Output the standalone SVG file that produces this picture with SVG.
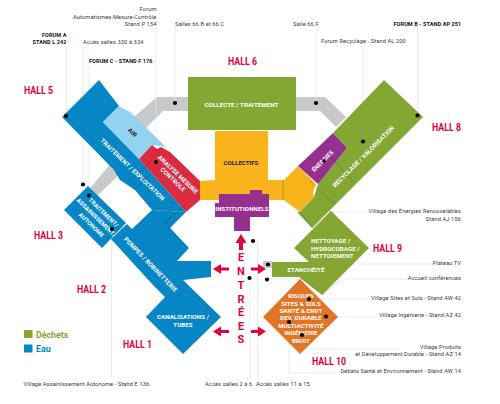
<svg xmlns="http://www.w3.org/2000/svg" width="500" height="404" viewBox="0 0 500 404">
<style>
text{font-family:Roboto,"Liberation Sans",sans-serif}
.s{font-size:5.7px;fill:#3a3a3a;letter-spacing:.1px}
.f{font-size:5.5px;font-weight:700;fill:#111;letter-spacing:.1px}
.e{text-anchor:end}
.h{font-size:10px;font-weight:700;fill:#e4003a}
.w{font-size:6.1px;font-weight:700;fill:#fff;text-anchor:middle;letter-spacing:.1px}
.k{font-size:6.1px;font-weight:700;fill:#222;text-anchor:middle}
.l{fill:none;stroke:#e2e2e2;stroke-width:.7}
.d{fill:#000}
.a{fill:#e4003a}
.sm{fill:none;stroke:#000;stroke-opacity:.3;stroke-width:.6}
.blue{fill:#0786c6}.green{fill:#84a733}.yellow{fill:#f9b31b}.purple{fill:#96308e}.red{fill:#d92c41}.lb{fill:#93d3f2}.gr{fill:#c8c9cb}.or{fill:#e07427}
</style>
<g id="walkways">
<polygon class="gr" points="157,97 188,97 188,111 163,111 140,134 128,122"/>
<polygon class="gr" points="90,188 112,162 122,172 97,196"/>
<polygon class="gr" points="296,97 325,97 346,117 336,127 320,111 296,111"/>
<polygon class="gr" points="263,261 272,261 272,268 263,268"/>
</g>
<g id="connectors">
<path class="l" d="M66.5 46V116M83 47V184M89 66V195M156 27V162M175 28V103M316 28V103M363 46V142M417.5 28V115"/>
<path class="l" d="M324 161V205L331 212H366M268 264H432M267 279H408M309 299H370M326 317H378M302 335V349H400M289 322V373H338M253 241H257.5V378M250 278V378M111.5 229V378"/>
</g>
<g id="hall5">
<polygon class="blue" points="99,80 62,117 114,170 120,180 135,190 152,210 186,212 139,159 103,122 119,106"/>
</g>
<g id="hall5-air"><polygon class="lb" points="103,122 119,106 130,112 166,147 152,145 139,159"/><text class="k" transform="translate(131,134) rotate(44)">AIR</text></g>
<g id="hall5-traitement"><text class="w" transform="translate(131,171) rotate(44)">TRAITEMENT / EXPLOITATION</text></g>
<g id="analyse"><polygon class="red" points="139,159 152,145 157,149 161,147 170,152 200,181 200,200 186,212"/>
<text class="w" transform="translate(176.500,176) rotate(44)">ANALYSE MESURE</text><text class="w" transform="translate(171.500,181) rotate(44)">CONTROLE</text></g>
<g id="hall3"><polygon class="blue" points="88,186 64,210 102,248 126,223"/>
<text class="w" transform="translate(102,214) rotate(44)" style="font-size:5.8px">TRAITEMENT/</text>
<text class="w" transform="translate(95,219) rotate(44)" style="font-size:5.8px">ASSAINISSEMENT/</text>
<text class="w" transform="translate(90,226.500) rotate(44)" style="font-size:5.8px">AUTONOME</text></g>
<g id="hall2"><polygon class="blue" points="111,239 127,224 132,229 152,210 186,212 170,228 189,248 177,261 211,261 211,277 183,280 221,317 183,354 146,317 165,297 153,285"/>
<text class="w" transform="translate(149,266) rotate(46)">POMPES / ROBINETTERIE</text></g>
<g id="hall1"><text class="w" x="183" y="319">CANALISATIONS /</text><text class="w" x="183" y="326.500">TUBES</text></g>
<g id="hall6"><rect class="green" x="188" y="77" width="108" height="53"/><text class="w" x="241.500" y="107">COLLECTE / TRAITEMENT</text></g>
<g id="collectifs"><polygon class="yellow" points="215,131 268,131 268,180 284,180 298,166 316,184 313,192 314,197 300,212 284,200 200,200 200,181 215,180"/><text class="k" x="241" y="165">COLLECTIFS</text></g>
<g id="recyclage"><polygon class="green" points="384,80 423,117 330,210 312,228 297,212 300,212 314,197 318,184 347,148 333,133"/><text class="w" transform="translate(365,158) rotate(-45)">RECYCLAGE / VALORISATION</text></g>
<g id="institutionnels"><polygon class="purple" points="219,194 250,194 250,190 262,190 262,194 269,194 269,217 250,217 250,231 234,231 234,217 215,217 215,203 219,203"/><text class="w" x="242" y="210.500">INSTITUTIONNELS</text></g>
<g id="energies"><polygon class="purple" points="298,166 313,152 333,133 347,148 318,184"/><text class="w" transform="translate(324,162.500) rotate(-45)" style="font-size:5.8px">ÉNERGIES</text></g>
<g id="nettoyage"><polygon class="green" points="331,211 369,248 322,295 300,278 300,262 309,262 294,248"/>
<text class="w" x="311" y="243" style="text-anchor:start">NETTOYAGE /</text><text class="w" x="311" y="250.500" style="text-anchor:start">HYDROCURAGE /</text><text class="w" x="311" y="258" style="text-anchor:start">NETTOIEMENT</text></g>
<g id="etancheite"><rect class="green" x="272" y="262" width="43" height="15"/><text class="w" x="306" y="271.500">ETANCHÉITÉ</text></g>
<g id="hall10"><polygon class="or" points="300,279 338,317 300,354 263,317"/>
<text class="w" x="301" y="298">RISQUES</text><text class="w" x="301" y="305.500">SITES &amp; SOLS</text><text class="w" x="301" y="313">SANTÉ &amp; ENVT</text><text class="w" x="301" y="320">DEV. DURABLE</text><text class="w" x="301" y="327.500">MULTIACTIVITÉ</text><text class="w" x="301" y="335">INGÉNIERIE</text><text class="w" x="301" y="342.500">BRUIT</text></g>
<g id="seams">
<path class="sm" d="M128,183 L152,160M134,190 L150,175M162,225 L185,205M165,222 L185,246M196,296 L212,312M283,180 V200M330,156 L355,183M310,181 L335,205M300,212 L313,228 L331,211M340,280 L322,295"/>
</g>
<g id="dots">
<circle class="d" cx="66" cy="116" r="2.100"/><circle class="d" cx="83" cy="184.500" r="2.100"/><circle class="d" cx="89" cy="195.500" r="2.100"/><circle class="d" cx="156" cy="162" r="2.100"/><circle class="d" cx="175" cy="103" r="2.100"/><circle class="d" cx="316" cy="103" r="2.100"/><circle class="d" cx="363" cy="141.500" r="2.100"/><circle class="d" cx="417.500" cy="115.500" r="2.100"/><circle class="d" cx="324" cy="161" r="1.800"/><circle class="d" cx="268" cy="264.500" r="2.100"/><circle class="d" cx="267" cy="279.500" r="2.100"/><circle class="d" cx="309" cy="299" r="2.100"/><circle class="d" cx="326" cy="316.500" r="2.100"/><circle class="d" cx="302" cy="335" r="2.100"/><circle class="d" cx="289" cy="322" r="2.100"/><circle class="d" cx="253" cy="241" r="2.100"/><circle class="d" cx="249.500" cy="278" r="2.100"/><circle class="d" cx="112" cy="229" r="2.100"/>
</g>
<g id="entrees">
<polygon class="a" points="241,234 246.500,243 243,243 243,250 239,250 239,243 235.500,243"/>
<polygon class="a" points="213,269 221,264 221,267.500 229,267.500 229,270.500 221,270.500 221,274"/>
<polygon class="a" points="213,331.500 221,326.500 221,330 229,330 229,333 221,333 221,336.500"/>
<polygon class="a" points="266,269 258,264 258,267.500 251,267.500 251,270.500 258,270.500 258,274"/>
<polygon class="a" points="266,331.500 258,326.500 258,330 251,330 251,333 258,333 258,336.500"/>
<g class="h" style="text-anchor:middle;font-size:11px"><text x="241" y="261">E</text><text x="241" y="275">N</text><text x="241" y="289">T</text><text x="241" y="303">R</text><text x="241" y="316">É</text><text x="241" y="330">E</text><text x="241" y="343">S</text></g>
</g>
<g id="hall-labels">
<text class="h" x="24" y="93.500" textLength="29" lengthAdjust="spacingAndGlyphs">HALL 5</text><text class="h" x="228" y="65" textLength="29" lengthAdjust="spacingAndGlyphs">HALL 6</text><text class="h" x="432" y="131" textLength="29" lengthAdjust="spacingAndGlyphs">HALL 8</text><text class="h" x="34" y="239" textLength="29" lengthAdjust="spacingAndGlyphs">HALL 3</text><text class="h" x="77" y="293" textLength="29" lengthAdjust="spacingAndGlyphs">HALL 2</text><text class="h" x="123" y="348" textLength="29" lengthAdjust="spacingAndGlyphs">HALL 1</text><text class="h" x="373" y="252" textLength="29" lengthAdjust="spacingAndGlyphs">HALL 9</text><text class="h" x="312" y="364.500" textLength="34" lengthAdjust="spacingAndGlyphs">HALL 10</text>
</g>
<g id="captions">
<text class="s e" x="156.500" y="11">Forum</text><text class="s e" x="156.500" y="18.500">Automatismes-Mesure-Contrôle</text><text class="s e" x="156.500" y="25.500">Stand P 154</text>
<text class="s" x="175" y="25.500">Salles 66.B et 66.C</text>
<text class="f e" x="66.500" y="36.500">FORUM A</text><text class="f e" x="66.500" y="43.500">STAND L 242</text>
<text class="s" x="83" y="43.500">Accès salles 330 à 334</text>
<text class="f" x="89" y="63">FORUM C - STAND F 176</text>
<text class="s" x="293" y="25.500">Salle 66.F</text>
<text class="f" x="393.500" y="25.500">FORUM B - STAND AP 251</text>
<text class="s" x="321" y="43">Forum Recyclage - Stand AL 200</text>
<text class="s e" x="461" y="213">Village des Énergies Renouvelables</text><text class="s e" x="461" y="220.500">Stand AJ 156</text>
<text class="s e" x="461" y="264.500">Plateau TV</text><text class="s e" x="461" y="280">Accueil conférences</text>
<text class="s e" x="461" y="300">Village Sites et Sols - Stand AW 42</text><text class="s e" x="461" y="317">Village Ingénierie - Stand AZ 42</text>
<text class="s e" x="461" y="348.500">Village Produits</text><text class="s e" x="461" y="356">et Développement Durable - Stand AZ 14</text>
<text class="s e" x="461" y="373">Débats Santé et Environnement - Stand AW 14</text>
<text class="s" x="256" y="385.500">Accès salles 11 à 15</text><text class="s" x="205" y="385.500">Accès salles 2 à 6</text>
<text class="s" x="23.500" y="385.500">Village Assainissement Autonome - Stand E 136</text>
</g>
<g id="legend">
<rect class="green" x="24" y="330" width="8.500" height="8"/><text x="36" y="337.500" style="font-size:8.800px;font-weight:700;fill:#84a733">Déchets</text>
<rect class="blue" x="24" y="344.500" width="8.500" height="8"/><text x="36" y="351.500" style="font-size:8.800px;font-weight:700;fill:#0786c6">Eau</text>
</g>
</svg>
